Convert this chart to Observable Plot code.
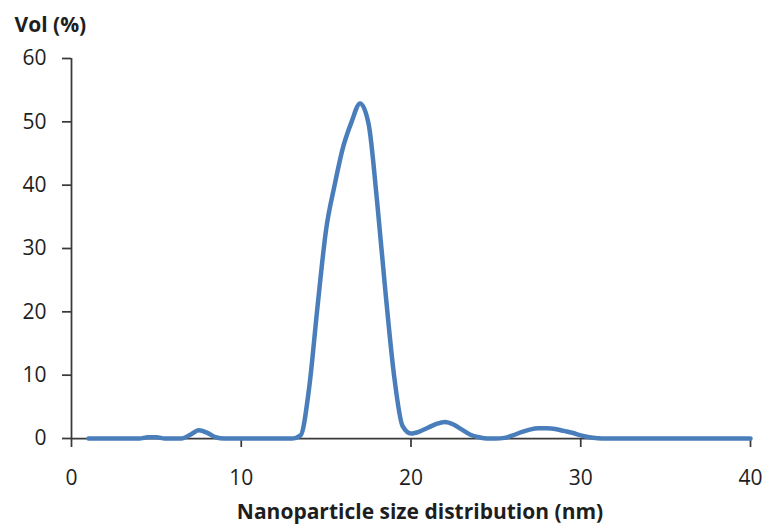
<!DOCTYPE html>
<html>
<head>
<meta charset="utf-8">
<script src="https://cdn.jsdelivr.net/npm/d3@7"></script>
<script src="https://cdn.jsdelivr.net/npm/@observablehq/plot@0.6"></script>
<style>
  html, body { margin: 0; padding: 0; background: #fff; }
</style>
</head>
<body>
<div id="chart"></div>
<script>
const sizes = [1, 2, 3, 4, 4.5, 5, 5.5, 6, 6.5, 7, 7.5, 8, 8.5, 9, 10, 11, 12, 13, 13.5, 14, 14.5, 15, 15.5, 16, 16.5, 17, 17.5, 18, 18.5, 19, 19.5, 20, 20.5, 21, 21.5, 22, 22.5, 23, 23.5, 24, 24.5, 25, 25.5, 26, 26.5, 27, 27.5, 28, 28.5, 29, 29.5, 30, 30.5, 31, 31.5, 32, 33, 35, 40];
const vol   = [0, 0, 0, 0, 0.2, 0.2, 0, 0, 0, 0.6, 1.3, 0.9, 0.2, 0, 0, 0, 0, 0, 0.5, 8, 21, 33, 40, 46, 50, 52.9, 49.7, 37.5, 23, 10, 2, 0.8, 1.1, 1.7, 2.3, 2.6, 2.2, 1.4, 0.6, 0.2, 0, 0, 0.1, 0.5, 1.0, 1.4, 1.6, 1.6, 1.5, 1.2, 0.9, 0.5, 0.2, 0.05, 0, 0, 0, 0, 0];
const xTicks = [0, 10, 20, 30, 40];
const yTicks = [0, 10, 20, 30, 40, 50, 60];
const xTitle = "Nanoparticle size distribution (nm)";
const yTitle = "Vol (%)";

const data = sizes.map((s, i) => ({size: s, vol: vol[i]}));
const axisColor = "#3a3a3a";
const textColor = "#1e1e1e";

const chart = Plot.plot({
  width: 773,
  height: 526,
  marginLeft: 71,
  marginRight: 23,
  marginTop: 58,
  marginBottom: 88,
  style: {fontFamily: "'Open Sans', Lato, sans-serif", fontSize: "21px", color: textColor, background: "#fff"},
  x: {domain: [0, 40]},
  y: {domain: [0, 60]},
  marks: [
    Plot.axisX({ticks: xTicks, tickSize: 9, tickPadding: 23, label: null, stroke: axisColor, strokeWidth: 1.75, fill: textColor}),
    Plot.axisY({ticks: yTicks, tickSize: 9, tickPadding: 16, label: null, stroke: axisColor, strokeWidth: 1.75, fill: textColor}),
    Plot.ruleY([0], {stroke: axisColor, strokeWidth: 1.75}),
    Plot.ruleX([0], {stroke: axisColor, strokeWidth: 1.75}),
    Plot.line(data, {x: "size", y: "vol", curve: "monotone-x", stroke: "#4a7ebb", strokeWidth: 4.5, strokeLinejoin: "round", strokeLinecap: "round"}),
    Plot.text([xTitle], {frameAnchor: "bottom", dx: 9, dy: 80, text: d => d, fontWeight: "bold", fontSize: 21, fill: textColor, textAnchor: "middle"}),
    Plot.text([yTitle], {frameAnchor: "top-left", dx: -57, dy: -41, text: d => d, fontWeight: "bold", fontSize: 21, fill: textColor, textAnchor: "start"})
  ]
});
document.getElementById("chart").appendChild(chart);
</script>
</body>
</html>
